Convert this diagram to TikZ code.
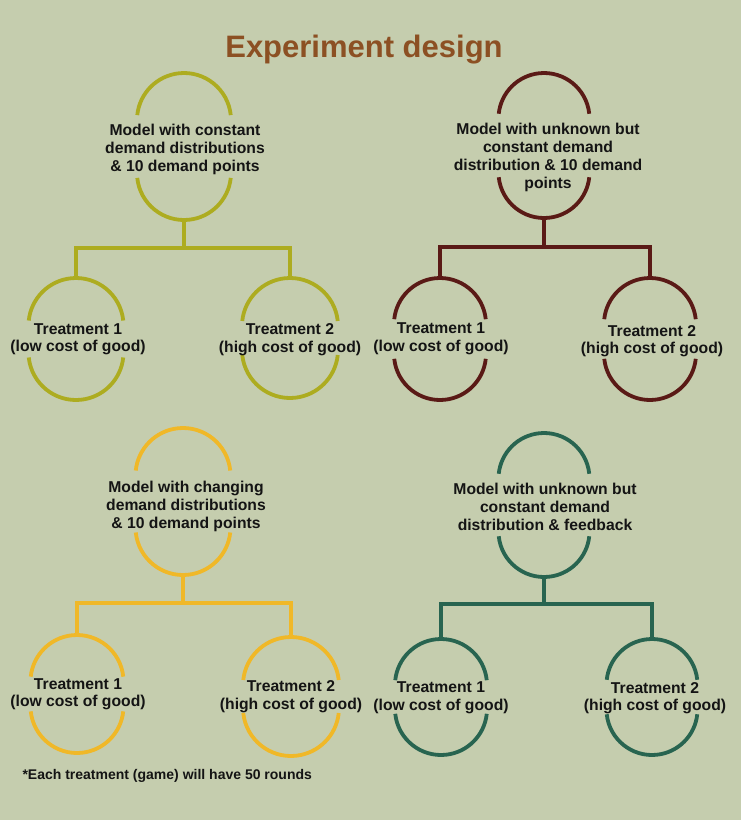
\documentclass[tikz,border=0pt]{standalone}
\usepackage{fontspec}
\setmainfont{Liberation Sans}
\usetikzlibrary{calc, positioning, shapes.geometric}
\definecolor{bgsage}    {RGB}{197,205,174}
\definecolor{titlebrown}{RGB}{140, 80, 35}
\definecolor{treeolive} {RGB}{173,172, 32}
\definecolor{treemaroon}{RGB}{ 90, 26, 22}
\definecolor{treegold}  {RGB}{240,184, 40}
\definecolor{treeteal}  {RGB}{ 40,100, 80}
\definecolor{inkblack}  {RGB}{ 20, 20, 20}
%% round cap and round cup of a ring node, open at the sides
\newcommand{\ringarcs}[3]{%
  \draw[#1] let \p1=($(#2.east)-(#2.center)$) in
    ($(#2.north)+(0pt,-\x1)+(#3:\x1)$)
      arc[start angle=#3, end angle=180-#3, radius=\x1]
    ($(#2.south)+(0pt,\x1)+(180+#3:\x1)$)
      arc[start angle=180+#3, end angle=360-#3, radius=\x1];}

\begin{document}
\begin{tikzpicture}[x=1pt, y=-1pt,
  ring/.style 2 args={rectangle, draw=none, inner sep=0pt, outer sep=0pt,
    minimum width=#1, minimum height=#2},
  mtext/.style={align=center, text=inkblack, inner sep=0pt,
    font=\fontsize{15.7}{18}\selectfont\bfseries},
  ttext/.style={mtext, font=\fontsize{15.7}{17.5}\selectfont\bfseries},
  link/.style={line width=3.8pt},
]
\useasboundingbox (0,0) rectangle (741,820);
\fill[bgsage] (0,0) rectangle (741,820);
%% Title
\node[font=\fontsize{31}{36}\selectfont\bfseries, text=titlebrown, anchor=base]
  (title) at (364,57) {Experiment design};
%% Tree 1 -- constant demand
\node[ring={94pt}{147pt}] (R1)  at (184,146.5) {};
\node[ring={95pt}{122pt}] (R11) at (76,339) {};
\node[ring={96pt}{120pt}] (R12) at (290,338) {};
\ringarcs{link, treeolive}{R1}{6}
\ringarcs{link, treeolive}{R11}{6}
\ringarcs{link, treeolive}{R12}{6}
\node[mtext] (M1) at (185,149.5)
  {Model with constant\\demand distributions\\\& 10 demand points};
\node[ttext] (T11) at (78,339.5) {Treatment 1\\(low cost of good)};
\node[ttext] (T12) at (290,339.5) {Treatment 2\\(high cost of good)};
\draw[link, treeolive] (R1.south) -- ++(0,28) -| (R11.north);
\draw[link, treeolive] (R1.south) -- ++(0,28) -| (R12.north);
%% Tree 2 -- unknown demand
\node[ring={91pt}{145pt}] (R2)  at (544,145.5) {};
\node[ring={92pt}{122pt}] (R21) at (440,339) {};
\node[ring={92pt}{122pt}] (R22) at (650,339) {};
\ringarcs{link, treemaroon}{R2}{6}
\ringarcs{link, treemaroon}{R21}{6}
\ringarcs{link, treemaroon}{R22}{6}
\node[mtext] (M2) at (548,157)
  {Model with unknown but\\constant demand\\distribution \& 10 demand\\points};
\node[ttext] (T21) at (441,339) {Treatment 1\\(low cost of good)};
\node[ttext] (T22) at (652,341) {Treatment 2\\(high cost of good)};
\draw[link, treemaroon] (R2.south) -- ++(0,29) -| (R21.north);
\draw[link, treemaroon] (R2.south) -- ++(0,29) -| (R22.north);
%% Tree 3 -- changing demand
\node[ring={95pt}{147pt}] (R3)  at (183,501.5) {};
\node[ring={93pt}{118pt}] (R31) at (77,694) {};
\node[ring={96pt}{119pt}] (R32) at (291,696.5) {};
\ringarcs{link, treegold}{R3}{6}
\ringarcs{link, treegold}{R31}{6}
\ringarcs{link, treegold}{R32}{6}
\node[mtext] (M3) at (186,506.5)
  {Model with changing\\demand distributions\\\& 10 demand points};
\node[ttext] (T31) at (78,694.5) {Treatment 1\\(low cost of good)};
\node[ttext] (T32) at (291,696.5) {Treatment 2\\(high cost of good)};
\draw[link, treegold] (R3.south) -- ++(0,28) -| (R31.north);
\draw[link, treegold] (R3.south) -- ++(0,28) -| (R32.north);
%% Tree 4 -- feedback
\node[ring={91pt}{144pt}] (R4)  at (544,505) {};
\node[ring={92pt}{116pt}] (R41) at (441,697) {};
\node[ring={91pt}{116pt}] (R42) at (652,697) {};
\ringarcs{link, treeteal}{R4}{6}
\ringarcs{link, treeteal}{R41}{6}
\ringarcs{link, treeteal}{R42}{6}
\node[mtext] (M4) at (545,506.5)
  {Model with unknown but\\constant demand\\distribution \& feedback};
\node[ttext] (T41) at (441,698) {Treatment 1\\(low cost of good)};
\node[ttext] (T42) at (655,698) {Treatment 2\\(high cost of good)};
\draw[link, treeteal] (R4.south) -- ++(0,27) -| (R41.north);
\draw[link, treeteal] (R4.south) -- ++(0,27) -| (R42.north);
%% Footnote
\node[font=\fontsize{14}{16}\selectfont\bfseries, text=inkblack, anchor=west]
  (note) at (19,776) {*Each treatment (game) will have 50 rounds};
\end{tikzpicture}
\end{document}
